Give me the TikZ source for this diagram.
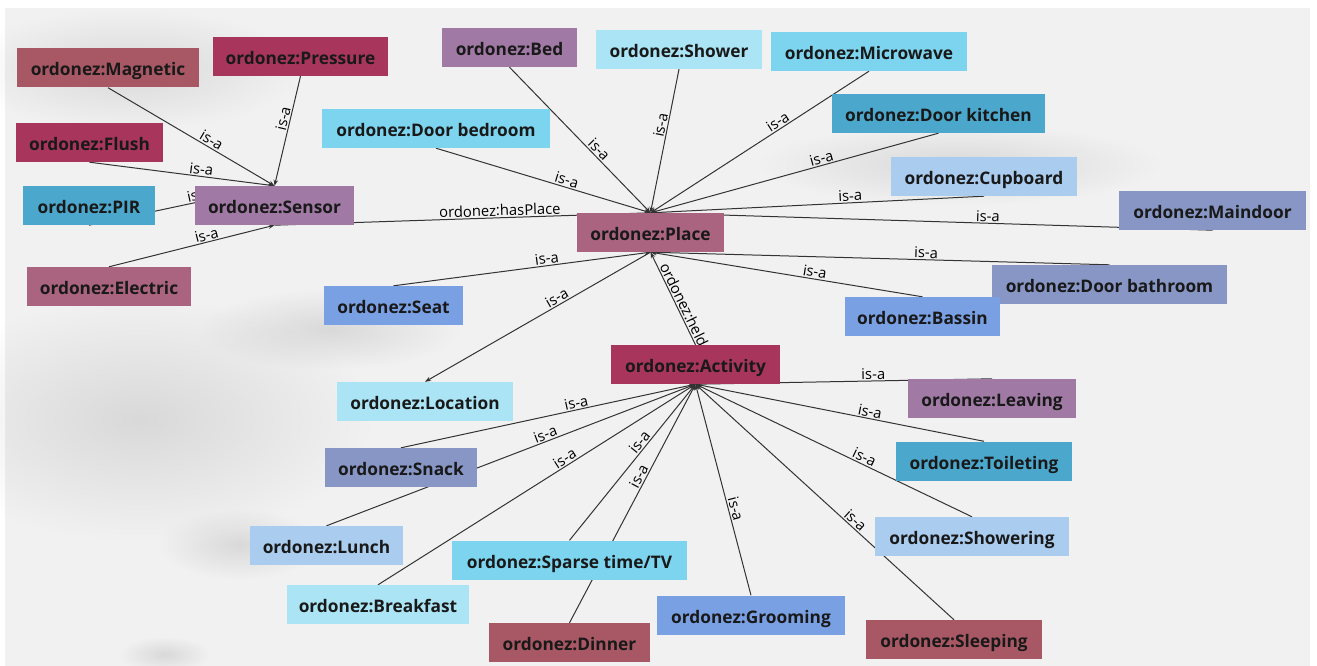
\documentclass[tikz,border=0pt]{standalone}
\usepackage{fontspec}
\setmainfont{Open Sans}
\usepackage{tikz}
\usetikzlibrary{arrows.meta}
\definecolor{crimson}{RGB}{168,54,92}
\definecolor{rosewood}{RGB}{168,88,100}
\definecolor{mulberry}{RGB}{170,100,128}
\definecolor{mauve}{RGB}{160,122,165}
\definecolor{teal}{RGB}{75,168,204}
\definecolor{skycyan}{RGB}{124,212,238}
\definecolor{palecyan}{RGB}{170,228,245}
\definecolor{paleblue}{RGB}{170,204,238}
\definecolor{slate}{RGB}{135,150,196}
\definecolor{cornflower}{RGB}{122,160,228}
\definecolor{panelgray}{RGB}{241,241,241}
\pgfdeclarelayer{panel}
\pgfdeclarelayer{links}
\pgfsetlayers{panel,links,main}

\begin{document}
\begin{tikzpicture}[x=1pt,y=-1pt,>=Stealth]
\tikzstyle{cls}=[inner sep=0pt,minimum height=39pt,text height=19pt,text depth=3pt,text=black!90,font=\fontsize{17.3}{20}\selectfont\bfseries]
\tikzstyle{link}=[draw=black!80,line width=1pt,-{Stealth[length=6pt,width=4.5pt]}]
\tikzstyle{lbl}=[sloped,above,inner sep=1.2pt,text=black,font=\fontsize{14.8}{17}\selectfont]
\useasboundingbox (0,0) rectangle (1317,666);
% sensor side
\node[cls,fill=rosewood,minimum width=182pt] (mag) at (108,68) {ordonez:Magnetic};
\node[cls,fill=crimson,minimum width=175pt] (pres) at (300.5,56.5) {ordonez:Pressure};
\node[cls,fill=crimson,minimum width=147pt] (flush) at (89.5,142.5) {ordonez:Flush};
\node[cls,fill=teal,minimum width=132pt] (pir) at (89,205.5) {ordonez:PIR};
\node[cls,fill=mauve,minimum width=159pt] (sensor) at (274.5,205.5) {ordonez:Sensor};
\node[cls,fill=mulberry,minimum width=164pt] (elec) at (109,286.5) {ordonez:Electric};
% place side
\node[cls,fill=mulberry,minimum width=147pt] (place) at (650.5,232.5) {ordonez:Place};
\node[cls,fill=skycyan,minimum width=228pt] (doorbed) at (436,128.5) {ordonez:Door bedroom};
\node[cls,fill=mauve,minimum width=135pt] (bed) at (509.5,47.5) {ordonez:Bed};
\node[cls,fill=palecyan,minimum width=166pt] (shower) at (679,49.5) {ordonez:Shower};
\node[cls,fill=skycyan,minimum width=196pt] (micro) at (869,51.5) {ordonez:Microwave};
\node[cls,fill=teal,minimum width=213pt] (doorkit) at (938.5,113.5) {ordonez:Door kitchen};
\node[cls,fill=paleblue,minimum width=186pt] (cup) at (984,176.5) {ordonez:Cupboard};
\node[cls,fill=slate,minimum width=187pt] (maind) at (1212.5,210.5) {ordonez:Maindoor};
\node[cls,fill=slate,minimum width=235pt] (doorbath) at (1109.5,284.5) {ordonez:Door bathroom};
\node[cls,fill=cornflower,minimum width=155pt] (bassin) at (922.5,316.5) {ordonez:Bassin};
\node[cls,fill=cornflower,minimum width=139pt] (seat) at (393.5,305.5) {ordonez:Seat};
\node[cls,fill=palecyan,minimum width=176pt] (location) at (425,401.5) {ordonez:Location};
% activity side
\node[cls,fill=crimson,minimum width=169pt] (activity) at (695.5,364.5) {ordonez:Activity};
\node[cls,fill=slate,minimum width=152pt] (snack) at (401,467.5) {ordonez:Snack};
\node[cls,fill=paleblue,minimum width=153pt] (lunch) at (326.5,545.5) {ordonez:Lunch};
\node[cls,fill=palecyan,minimum width=182pt] (breakfast) at (378,604.5) {ordonez:Breakfast};
\node[cls,fill=skycyan,minimum width=235pt] (sparse) at (569.5,560) {ordonez:Sparse time/TV};
\node[cls,fill=rosewood,minimum width=161pt] (dinner) at (569.5,642.5) {ordonez:Dinner};
\node[cls,fill=cornflower,minimum width=188pt] (grooming) at (751,615) {ordonez:Grooming};
\node[cls,fill=rosewood,minimum width=176pt] (sleeping) at (954,639.5) {ordonez:Sleeping};
\node[cls,fill=paleblue,minimum width=194pt] (showering) at (972,536.5) {ordonez:Showering};
\node[cls,fill=teal,minimum width=176pt] (toileting) at (984,461) {ordonez:Toileting};
\node[cls,fill=mauve,minimum width=168pt] (leaving) at (992,398.5) {ordonez:Leaving};

\begin{pgfonlayer}{panel}
\fill[white] (0,0) rectangle (1317,666);
\fill[panelgray] (5,8) rectangle (1310,666);
% soft shadows of the backdrop
\foreach \cx/\cy/\rx/\ry in {140/420/230/120,240/545/80/35,165/655/45/18,130/70/170/60,330/330/130/40,960/165/200/40}
  \foreach \k in {1,...,24}
    \fill[black,opacity=.0035] (\cx,\cy) ellipse [x radius=\rx*\k/24,y radius=\ry*\k/24];
\end{pgfonlayer}

\begin{pgfonlayer}{links}
\foreach \c/\p/\t in {mag.south/sensor.north/.6,pres.south/sensor.north/.4,flush.south/sensor.north/.6,
  pir.south/sensor.north/.6,elec.north/sensor.south/.6,
  doorbed.south/place.north/.6,bed.south/place.north/.6,shower.south/place.north/.4,
  micro.south/place.north/.4,doorkit.south/place.north/.4,cup.south/place.north/.4,
  maind.south/place.north/.4,seat.north/place.south/.6,bassin.north/place.south/.4,
  doorbath.north/place.south/.4,place.south/location.north/.4,
  snack.north/activity.south/.6,lunch.north/activity.south/.6,breakfast.north/activity.south/.6,
  sparse.north/activity.south/.6,dinner.north/activity.south/.6,grooming.north/activity.south/.4,
  sleeping.north/activity.south/.4,showering.north/activity.south/.4,
  toileting.north/activity.south/.4,leaving.north/activity.south/.4}
  \draw[link] (\c) -- node[lbl,pos=\t] {is-a} (\p);
\draw[link] (sensor.south) -- node[lbl,pos=.6] {ordonez:hasPlace} (place.north);
\draw[link] (activity.north) -- node[lbl,pos=.4] {ordonez:held} (place.south);
\end{pgfonlayer}
\end{tikzpicture}
\end{document}
